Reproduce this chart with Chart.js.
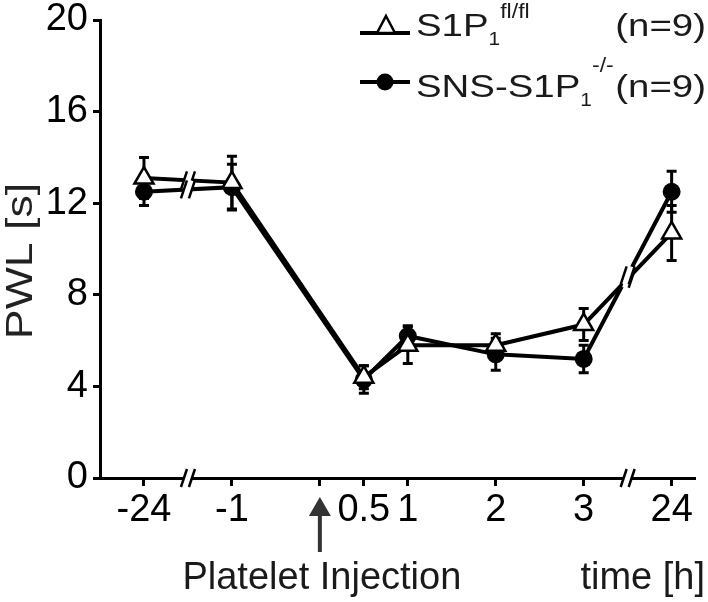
<!DOCTYPE html>
<html>
<head>
<meta charset="utf-8">
<script src="https://cdn.jsdelivr.net/npm/chart.js@4.4.0/dist/chart.umd.min.js"></script>
<style>
  html, body { margin: 0; padding: 0; background: #fff; }
  #wrap { width: 708px; height: 602px; }
</style>
</head>
<body>
<div id="wrap"><canvas id="pwl"></canvas></div>
<script>
// time points in h, -24 and 24 sit beyond the two axis breaks
var timeLabels = ['-24', '-1', '0.5', '1', '2', '3', '24'];
var timeAxis = [-2, -1, 0.5, 1, 2, 3, 4]; // position on the broken axis
var xTickValues = [-2, -1, 0, 0.5, 1, 2, 3, 4];
var xTickLabels = ['-24', '-1', '', '0.5', '1', '2', '3', '24'];
var yTicks = [0, 4, 8, 12, 16, 20];
var axisBreaks = [-1.5, 3.5];

// PWL [s], mean and SEM
var floxMean = [13.1, 12.9, 4.4, 5.8, 5.8, 6.7, 10.7];
var floxSem = [0.9, 1.15, 0.5, 0.8, 0.5, 0.7, 1.2];
var koMean = [12.5, 12.7, 4.3, 6.2, 5.4, 5.2, 12.5];
var koSem = [0.6, 1.0, 0.6, 0.45, 0.7, 0.6, 0.9];

var FONT = '"Liberation Sans", Arial, sans-serif';

function points(means) {
  return means.map(function (m, i) { return { x: timeAxis[i], y: m }; });
}

// text a bit wider than Liberation Sans, like the original
function wideText(ctx, text, x, y, size, align, sx, rotate) {
  ctx.save();
  ctx.translate(x, y);
  if (rotate) ctx.rotate(-Math.PI / 2);
  ctx.scale(sx, 1);
  ctx.font = size + 'px ' + FONT;
  ctx.textAlign = align;
  ctx.fillText(text, 0, 0);
  var w = ctx.measureText(text).width * sx;
  ctx.restore();
  return w;
}

// error bars with caps, under the markers
var errorBars = {
  id: 'errorBars',
  beforeDatasetsDraw: function (chart) {
    var ctx = chart.ctx;
    var y = chart.scales.y;
    var sems = [floxSem, koSem];
    ctx.save();
    ctx.strokeStyle = '#000';
    ctx.lineWidth = 3;
    chart.data.datasets.forEach(function (ds, di) {
      var meta = chart.getDatasetMeta(di);
      meta.data.forEach(function (pt, i) {
        var m = ds.data[i].y, s = sems[di][i];
        var top = y.getPixelForValue(m + s), bot = y.getPixelForValue(m - s);
        ctx.beginPath();
        ctx.moveTo(pt.x, top); ctx.lineTo(pt.x, bot);
        ctx.moveTo(pt.x - 5, top); ctx.lineTo(pt.x + 5, top);
        ctx.moveTo(pt.x - 5, bot); ctx.lineTo(pt.x + 5, bot);
        ctx.stroke();
      });
    });
    ctx.restore();
  }
};

function breakMark(ctx, x, y) {
  ctx.save();
  ctx.strokeStyle = '#fff';
  ctx.lineWidth = 7;
  ctx.beginPath();
  ctx.moveTo(x - 3, y + 9); ctx.lineTo(x + 3, y - 9);
  ctx.stroke();
  ctx.strokeStyle = '#000';
  ctx.lineWidth = 2.5;
  ctx.beginPath();
  ctx.moveTo(x - 7, y + 9); ctx.lineTo(x - 1, y - 9);
  ctx.moveTo(x + 1, y + 9); ctx.lineTo(x + 7, y - 9);
  ctx.stroke();
  ctx.restore();
}

// "//" on the x axis and on the lines that cross the breaks
var breaks = {
  id: 'breaks',
  afterDraw: function (chart) {
    var ctx = chart.ctx;
    var xs = chart.scales.x, ys = chart.scales.y;
    axisBreaks.forEach(function (b) {
      var bx = xs.getPixelForValue(b);
      breakMark(ctx, bx, ys.getPixelForValue(0));
      chart.data.datasets.forEach(function (ds) {
        for (var i = 0; i < ds.data.length - 1; i++) {
          var a = ds.data[i], c = ds.data[i + 1];
          if (a.x < b && c.x > b) {
            var t = (b - a.x) / (c.x - a.x);
            breakMark(ctx, bx, ys.getPixelForValue(a.y + t * (c.y - a.y)));
          }
        }
      });
    });
  }
};

// injection arrow, axis captions and the legend with sub/superscripts
var annotations = {
  id: 'annotations',
  afterDraw: function (chart) {
    var ctx = chart.ctx;
    var xs = chart.scales.x, ys = chart.scales.y;
    var ax = xs.getPixelForValue(0);
    ctx.save();
    ctx.fillStyle = '#333';
    ctx.strokeStyle = '#333';
    ctx.lineWidth = 4;
    ctx.beginPath();
    ctx.moveTo(ax, 512); ctx.lineTo(ax, 552);
    ctx.stroke();
    ctx.beginPath();
    ctx.moveTo(ax, 497); ctx.lineTo(ax + 11, 516); ctx.lineTo(ax - 11, 516);
    ctx.closePath();
    ctx.fill();

    ctx.fillStyle = '#1a1a1a';
    ctx.font = '38px ' + FONT;
    ctx.textBaseline = 'alphabetic';
    ctx.textAlign = 'center';
    ctx.fillText('Platelet Injection', ax + 2, 589);
    ctx.textAlign = 'right';
    ctx.fillText('time [h]', 705, 589);

    // y title
    ctx.fillStyle = '#222';
    wideText(ctx, 'PWL [s]', 32, (ys.top + ys.bottom) / 2 + 12, 36, 'center', 1.24, true);

    // legend
    var rows = [
      { line: 33, base: 36, name: 'S1P', sup: 'fl/fl', supBase: 18, tri: true },
      { line: 82, base: 97, name: 'SNS-S1P', sup: '-/-', supBase: 72, tri: false }
    ];
    rows.forEach(function (r) {
      ctx.strokeStyle = '#000';
      ctx.lineWidth = 4;
      ctx.beginPath();
      ctx.moveTo(360, r.line); ctx.lineTo(410, r.line);
      ctx.stroke();
      if (r.tri) {
        ctx.fillStyle = '#fff';
        ctx.lineWidth = 2.5;
        ctx.beginPath();
        ctx.moveTo(386, r.line - 17); ctx.lineTo(395, r.line); ctx.lineTo(377, r.line);
        ctx.closePath();
        ctx.fill(); ctx.stroke();
      } else {
        ctx.fillStyle = '#000';
        ctx.beginPath();
        ctx.arc(385, r.line, 8.5, 0, Math.PI * 2);
        ctx.fill();
      }
      ctx.fillStyle = '#1a1a1a';
      var w = wideText(ctx, r.name, 416, r.base, 32, 'left', 1.2);
      var x = 416 + w;
      var sw = wideText(ctx, '1', x, r.base + 9, 19, 'left', 1.1);
      wideText(ctx, r.sup, x + sw, r.supBase, 21, 'left', 1.1);
      wideText(ctx, '(n=9)', 706, r.base, 32, 'right', 1.2);
    });
    ctx.restore();
  }
};

var ctx = document.getElementById('pwl').getContext('2d');
var chart = new Chart(ctx, {
  type: 'line',
  data: {
    datasets: [
      {
        label: 'S1P1 fl/fl (n=9)',
        data: points(floxMean),
        borderColor: '#000',
        borderWidth: 4,
        pointStyle: 'triangle',
        pointRadius: 11,
        pointBorderWidth: 2.5,
        pointBackgroundColor: '#fff',
        pointBorderColor: '#000',
        tension: 0
      },
      {
        label: 'SNS-S1P1 -/- (n=9)',
        data: points(koMean),
        borderColor: '#000',
        borderWidth: 4,
        pointStyle: 'circle',
        pointRadius: 9,
        pointBorderWidth: 0,
        pointBackgroundColor: '#000',
        pointBorderColor: '#000',
        tension: 0
      }
    ]
  },
  options: {
    responsive: true,
    maintainAspectRatio: false,
    animation: false,
    layout: { padding: { top: 20, right: 5, left: 0, bottom: 0 } },
    plugins: {
      legend: { display: false },
      tooltip: { enabled: false }
    },
    scales: {
      x: {
        type: 'linear',
        min: -2.5,
        max: 4.26,
        afterBuildTicks: function (scale) {
          scale.ticks = xTickValues.map(function (v) { return { value: v }; });
        },
        afterFit: function (scale) { scale.height = 124; },
        ticks: {
          autoSkip: false,
          maxRotation: 0,
          color: '#000',
          padding: 2,
          font: { family: FONT, size: 38 },
          callback: function (v) {
            var i = xTickValues.indexOf(v);
            return i < 0 ? '' : xTickLabels[i];
          }
        },
        grid: { drawOnChartArea: false, tickLength: 8, lineWidth: 3, color: '#000' },
        border: { display: true, width: 3, color: '#000' }
      },
      y: {
        min: 0,
        max: 20,
        afterFit: function (scale) {
          scale.width = 100;
          scale.paddingTop = 0;
          scale.paddingBottom = 0;
        },
        ticks: {
          stepSize: 2,
          color: '#000',
          padding: 5,
          font: { family: FONT, size: 38 },
          callback: function (v) { return yTicks.indexOf(v) < 0 ? '' : v; }
        },
        grid: { drawOnChartArea: false, tickLength: 7, lineWidth: 3, color: '#000' },
        border: { display: true, width: 3, color: '#000' }
      }
    }
  },
  plugins: [errorBars, breaks, annotations]
});
</script>
</body>
</html>
